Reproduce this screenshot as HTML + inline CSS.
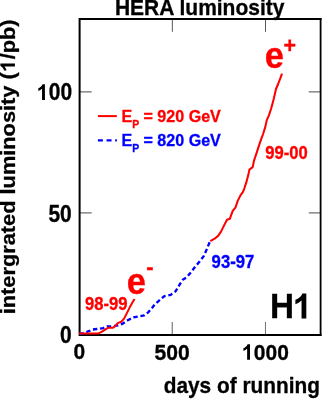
<!DOCTYPE html>
<html><head><meta charset="utf-8">
<style>
html,body{margin:0;padding:0;background:#fff;}
body{width:322px;height:414px;overflow:hidden;}
svg{display:block;will-change:transform;}
text{font-family:"Liberation Sans",sans-serif;font-weight:bold;stroke-width:0.3px;}
</style></head><body>
<svg width="322" height="414" viewBox="0 0 322 414">

<g fill="none">
<path stroke="#585858" stroke-width="1" d="M172.35 20V31.8M265.5 20V31.8"/>
<path stroke="#747474" stroke-width="1.15" d="M172.25 334V322"/>
<path stroke="#707070" stroke-width="1" d="M265.45 334V322"/>
<path stroke="#6e6e6e" stroke-width="1.25" d="M80 91.95H91.7M80 212.95H91.7M320 91.95H308.8M320 212.95H308.8"/>
</g>
<path d="M78.6 19.1H321.5M78.6 335H321.5M79.6 19.1V335" fill="none" stroke="#000" stroke-width="2"/><path d="M320.6 18.1V336" fill="none" stroke="#000" stroke-width="1.8"/>
<path fill="none" stroke="#0000ff" stroke-width="2.35" stroke-dasharray="4.4 2.767" stroke-dashoffset="0.6" d="M80.0 333.8L83 333.2L86.4 332.2L89.5 330.9L92 329.6L96.6 329.0L100 328.6L103.2 328.1L105.2 327.2L106.9 326.4L111.6 326.3L115.1 325.9L118.5 325.3L122.7 323.6L127.7 320.3L133.4 317.4L138.4 316.4L144.1 315.4L148.4 312.1L152 307.9L154.9 304.2L159.1 300.6L164.1 296.3L170.6 294.9L175.6 291.3L179.9 284.1L182.7 279.9L187 277L191.5 271.5L195.1 266.8L199.6 261.6L203.9 255.9L206.7 249.4L209.6 242.3"/>
<path fill="none" stroke="#ff0000" stroke-width="2.0" stroke-linejoin="round" d="M79.0 333.6L97.8 333.6L100.2 332.6L104.0 330.3L108.4 327.7L113 327.7L114.9 326.4L117.7 323.1L121.3 321.7L124.1 318.6L127 312.9L129.9 307.1L132.7 302.1L134.6 298.9"/>
<path fill="none" stroke="#ff0000" stroke-width="2.05" stroke-linejoin="round" d="M210.3 241.1L214.6 238.7L218.1 235.9L221 231.6L224.1 225.4L227 219.7L229.9 218.7L232.7 210.9L235.6 207.3L237.7 200.9L240.6 195.1L242.7 192.3L244.2 188.8L246.3 182.4L248.4 174.6L249.4 169.6L252.7 167.1L254.1 160.3L256.3 153.9L258.4 147.4L261 139.7L263.1 134L265.3 126.9L266.7 120.4L268.9 115.4L271 109L272 105.5L273.9 98.3L276 89L278.1 84L280.3 78.3L282 73.7"/>
<path d="M97.9 116.1H116.8" stroke="#ff0000" stroke-width="2"/>
<path d="M97.9 140.4H116.9" stroke="#0000ff" stroke-width="2.1" stroke-dasharray="5 3.65"/>
<text transform="translate(199.7,15.4) scale(1.0,1.06)" font-size="21" text-anchor="middle" stroke="#000">HERA luminosity</text>
<text transform="translate(72.1,100.1) scale(1.0,1.1)" font-size="21" text-anchor="end" stroke="#000">00</text>
<text transform="translate(71.8,221.7) scale(1.0,1.1)" font-size="21" text-anchor="end" stroke="#000">50</text>
<text transform="translate(71.8,343.0) scale(1.0,1.1)" font-size="21" text-anchor="end" stroke="#000">0</text>
<text transform="translate(79.4,359.2) scale(1.0,1.09)" font-size="21" text-anchor="middle" stroke="#000">0</text>
<text transform="translate(172.1,359.8) scale(1.0,1.065)" font-size="21.1" text-anchor="middle" stroke="#000">500</text>
<text transform="translate(288.858384,359.8) scale(1.0,1.065)" font-size="21" text-anchor="end" stroke="#000">000</text>
<text transform="translate(319.9,393.4) scale(1.0,1.075)" font-size="20.85" text-anchor="end" stroke="#000">days of running</text>
<text transform="translate(14.9,314.3) rotate(-90) scale(1.0,0.955)" font-size="21.8" stroke="#000">intergrated luminosity (</text>
<text transform="translate(121.6,122.1) scale(1.0,1.02)" font-size="16.1" fill="#ff0000" stroke="#ff0000" stroke-width="0.15">E<tspan font-size="10.4" dy="5.7">P</tspan><tspan x="17.4" dy="-5.7"> = 920 GeV</tspan></text>
<text transform="translate(121.6,146.0) scale(1.0,1.02)" font-size="16.1" fill="#0000ff" stroke="#0000ff" stroke-width="0.15">E<tspan font-size="10.4" dy="5.7">P</tspan><tspan x="17.4" dy="-5.7"> = 820 GeV</tspan></text>
<text transform="translate(85,309.5) scale(1.0,1.05)" font-size="16.6" fill="#ff0000" stroke="#ff0000" stroke-width="0.05">98-99</text>
<text transform="translate(211.6,268.0) scale(1.0,1.05)" font-size="16.7" fill="#0000ff" stroke="#0000ff" stroke-width="0.05">93-97</text>
<text transform="translate(265.3,159.2) scale(1.0,1.05)" font-size="16.6" fill="#ff0000" stroke="#ff0000" stroke-width="0.05">99-00</text>
<text transform="translate(264.8,68.3) scale(0.96,1.0)" font-size="36" fill="#ff0000" stroke="#ff0000" stroke-width="0">e</text>
<text transform="translate(126.8,294.2) scale(0.96,1.0)" font-size="36" fill="#ff0000" stroke="#ff0000" stroke-width="0">e</text>
<text transform="translate(269.9,318.4) scale(0.925,1.0)" font-size="36" stroke="#000">H</text>
<text transform="translate(283.6,53.3) scale(1.0,1.06)" font-size="21.4" fill="#ff0000" stroke="#ff0000" stroke-width="0">+</text>
<text transform="translate(146.2,274.3)" font-size="22" fill="#ff0000" stroke="#ff0000" stroke-width="0">-</text>
<path transform="translate(36.662423999999994,100.1) scale(0.010254,-0.010828)" d="M806 0H525V1059Q371 915 162 846V1101Q272 1137 401 1237.5Q530 1338 578 1472H806Z" fill="#000"/>
<path transform="translate(241.741616,359.8) scale(0.010254,-0.010484)" d="M806 0H525V1059Q371 915 162 846V1101Q272 1137 401 1237.5Q530 1338 578 1472H806Z" fill="#000"/>
<path transform="translate(292.65,318.4) scale(0.016943,-0.016846)" d="M806 0H525V1059Q371 915 162 846V1101Q272 1137 401 1237.5Q530 1338 578 1472H806Z" fill="#000"/>
<path transform="translate(14.9,72.25186000000001) rotate(-90) scale(0.010937,-0.009861)" d="M806 0H525V1059Q371 915 162 846V1101Q272 1137 401 1237.5Q530 1338 578 1472H806Z" fill="#000"/>
<text transform="translate(14.9,59.3) rotate(-90) scale(1.0,0.955)" font-size="21.8" stroke="#000">/pb)</text>
</svg>
</body></html>
